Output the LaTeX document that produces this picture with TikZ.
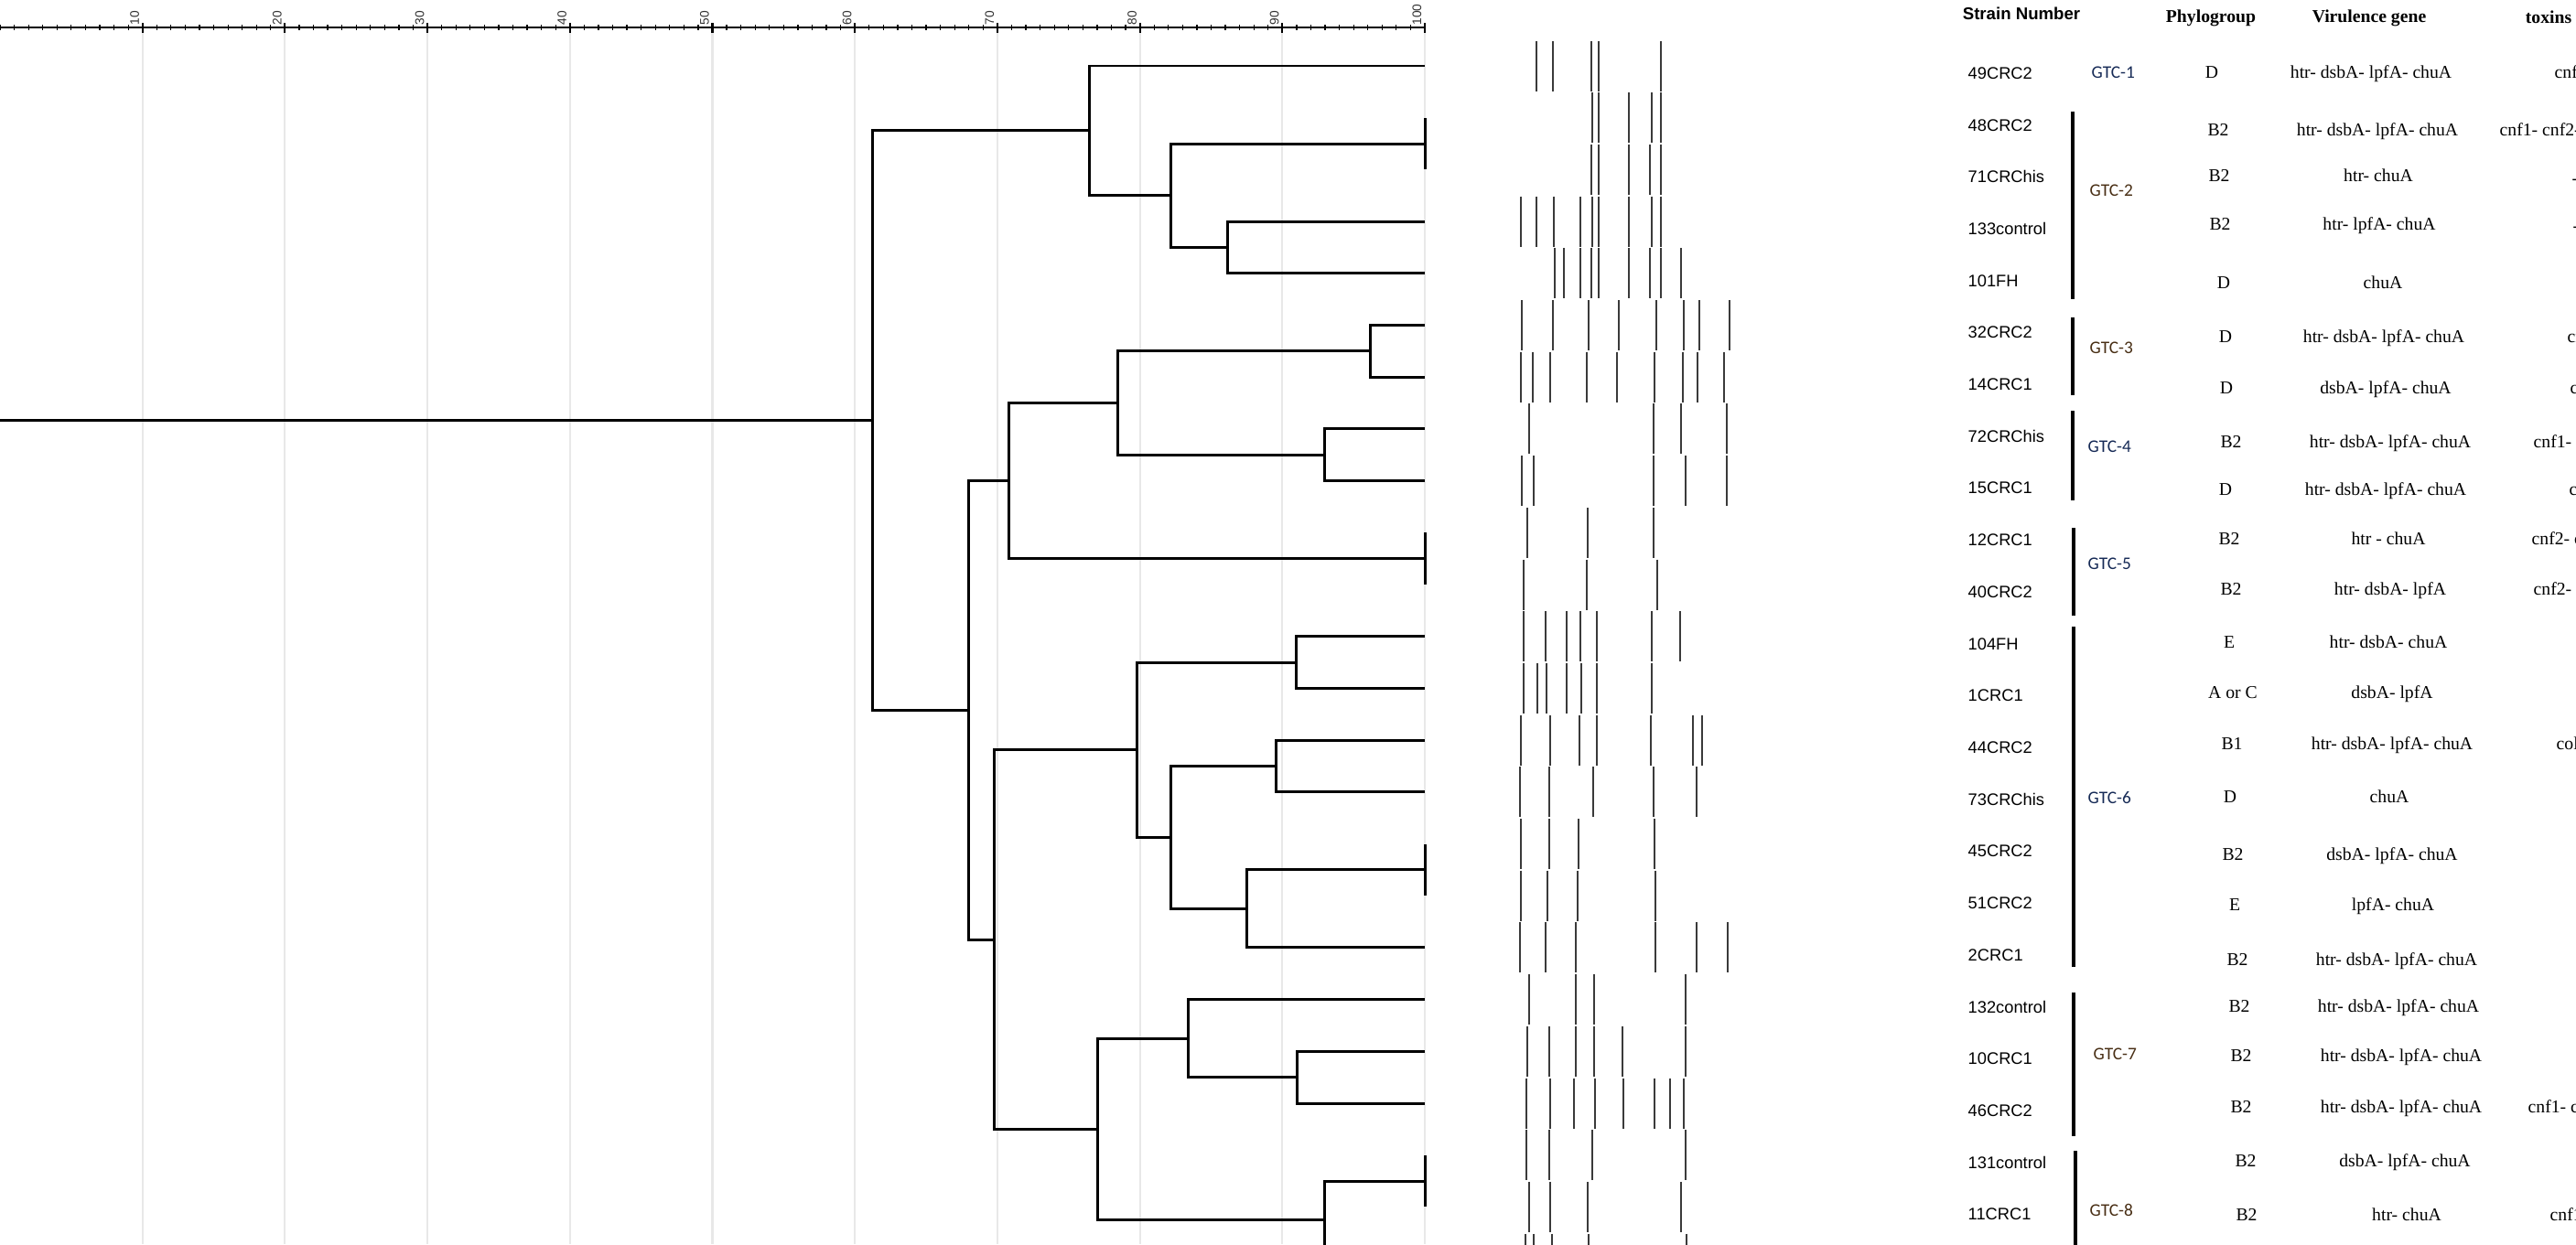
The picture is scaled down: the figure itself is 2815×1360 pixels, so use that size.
\documentclass[tikz,border=0pt]{standalone}
\usepackage{fontspec}
\setmainfont{Liberation Serif}
\setsansfont{Liberation Sans}
\newfontfamily\gtcfont{Carlito}
\usetikzlibrary{positioning}
\definecolor{gtcblue}{RGB}{22,42,86}
\definecolor{gtcbrown}{RGB}{72,46,20}
\definecolor{gridgray}{RGB}{232,232,232}
\definecolor{bandgray}{RGB}{58,58,58}

\begin{document}
\begin{tikzpicture}[x=0.01cm, y=-0.01cm,
branch/.style={line width=0.85pt, black},
gridline/.style={line width=0.6pt, gridgray},
band/.style={line width=0.7pt, bandgray},
gtcbar/.style={line width=1.2pt, black},
strain/.style={anchor=west, inner sep=0, font=\sffamily\fontsize{5.2}{6}\selectfont},
cell/.style={anchor=mid, inner sep=0, font=\fontsize{5.6}{6}\selectfont},
toxin/.style={anchor=mid west, inner sep=0, font=\fontsize{5.6}{6}\selectfont},
head/.style={inner sep=0, font=\bfseries\fontsize{5.6}{6}\selectfont},
gtc/.style={anchor=west, inner sep=0, font=\gtcfont\fontsize{5.5}{6}\selectfont},
ticklabel/.style={rotate=90, anchor=south west, inner sep=0, black!80,
  font=\sffamily\fontsize{3.9}{4}\selectfont}]
\useasboundingbox (0,0) rectangle (2815,1360);
\clip (0,0) rectangle (2815,1360);
\fill[white] (0,0) rectangle (2815,1360);

% scale and grid
\foreach \t in {10,20,...,100}
  \draw[gridline] ({15.57*\t},36) -- ({15.57*\t},1360);
\draw[line width=0.85pt] (0,30) -- (1557,30);
\foreach \t in {0,...,100}
  \draw[line width=0.35pt] ({15.57*\t},27) -- ({15.57*\t},33);
\foreach \t in {10,20,...,100} {
  \draw[line width=0.6pt] ({15.57*\t},25) -- ({15.57*\t},36);
  \node[ticklabel] (t\t) at ({15.57*\t-3},28) {\t};
}

% leaf tips at 100
\foreach \i in {1,...,24}
  \coordinate (l\i) at (1557,{72+56.7*(\i-1)});
% pairs joined at 100
\coordinate (P1) at (1557,157.05);
\coordinate (P2) at (1557,610.65);
\coordinate (P3) at (1557,950.85);
\coordinate (P4) at (1557,1291.05);
% inner nodes
\coordinate (C) at (1341,270.45);
\coordinate (B) at (1279,213.75);
\coordinate (A) at (1190,142.9);
\coordinate (G) at (1497,383.85);
\coordinate (H) at (1447,497.25);
\coordinate (F) at (1221,440.55);
\coordinate (E) at (1102,525.6);
\coordinate (K) at (1416,724.05);
\coordinate (M) at (1394,837.45);
\coordinate (N) at (1362,993.4);
\coordinate (L) at (1279,915.4);
\coordinate (J) at (1242,819.7);
\coordinate (R) at (1417,1177.65);
\coordinate (Q) at (1298,1135.1);
\coordinate (S) at (1447,1333.6);
\coordinate (O) at (1199,1234.35);
\coordinate (I) at (1086,1027);
\coordinate (D) at (1058,776.3);
\coordinate (root) at (953,459.6);
\coordinate (base) at (0,459.6);

\draw[branch] (base) -- (root);
\draw[branch] (root) |- (A);
\draw[branch] (root) |- (D);
\draw[branch] (A) |- (l1);
\draw[branch] (A) |- (B);
\draw[branch] (B) |- (P1);
\draw[branch] (B) |- (C);
\draw[branch] (P1) |- (l2);
\draw[branch] (P1) |- (l3);
\draw[branch] (C) |- (l4);
\draw[branch] (C) |- (l5);
\draw[branch] (D) |- (E);
\draw[branch] (D) |- (I);
\draw[branch] (E) |- (F);
\draw[branch] (E) |- (P2);
\draw[branch] (F) |- (G);
\draw[branch] (F) |- (H);
\draw[branch] (G) |- (l6);
\draw[branch] (G) |- (l7);
\draw[branch] (H) |- (l8);
\draw[branch] (H) |- (l9);
\draw[branch] (P2) |- (l10);
\draw[branch] (P2) |- (l11);
\draw[branch] (I) |- (J);
\draw[branch] (I) |- (O);
\draw[branch] (J) |- (K);
\draw[branch] (J) |- (L);
\draw[branch] (K) |- (l12);
\draw[branch] (K) |- (l13);
\draw[branch] (L) |- (M);
\draw[branch] (L) |- (N);
\draw[branch] (M) |- (l14);
\draw[branch] (M) |- (l15);
\draw[branch] (N) |- (P3);
\draw[branch] (N) |- (l18);
\draw[branch] (P3) |- (l16);
\draw[branch] (P3) |- (l17);
\draw[branch] (O) |- (Q);
\draw[branch] (O) |- (S);
\draw[branch] (Q) |- (l19);
\draw[branch] (Q) |- (R);
\draw[branch] (R) |- (l20);
\draw[branch] (R) |- (l21);
\draw[branch] (S) |- (P4);
\draw[branch] (S) |- (l24);
\draw[branch] (P4) |- (l22);
\draw[branch] (P4) |- (l23);

% band patterns
\foreach \r/\xs in {
 1/{1679,1697,1739,1747,1815},
 2/{1740,1747,1780,1805,1815},
 3/{1739,1747,1780,1803,1815},
 4/{1662,1679,1698,1727,1740,1747,1780,1805,1815},
 5/{1699,1709,1727,1739,1747,1780,1803,1815,1837},
 6/{1663,1697,1736,1769,1810,1840,1857,1890},
 7/{1662,1675,1694,1734,1767,1808,1839,1855,1884},
 8/{1671,1807,1837,1887},
 9/{1663,1676,1807,1842,1887},
 10/{1669,1735,1807},
 11/{1665,1734,1811},
 12/{1665,1689,1712,1727,1745,1805,1836},
 13/{1665,1680,1690,1712,1728,1745,1805},
 14/{1662,1694,1726,1745,1804,1850,1860},
 15/{1661,1693,1741,1807,1854},
 16/{1662,1693,1725,1808},
 17/{1662,1691,1724,1809},
 18/{1661,1689,1722,1809,1854,1888},
 19/{1671,1722,1742,1842},
 20/{1669,1693,1722,1742,1773,1842},
 21/{1668,1694,1720,1743,1774,1808,1825,1840},
 22/{1668,1693,1740,1842},
 23/{1671,1694,1735,1837},
 24/{1667,1676,1696,1736,1843}}
  \foreach \x in \xs
    \draw[band] (\x,{72+56.7*(\r-1)-27.5}) -- (\x,{72+56.7*(\r-1)+27.5});

% table
\node[strain, anchor=center, font=\sffamily\bfseries\fontsize{5.3}{6}\selectfont]
  (hstrain) at (2209,15) {Strain Number};
\node[head] (hphylo) at (2416,20) {Phylogroup};
\node[head] (hgene) at (2589,20) {Virulence gene};
\node[head] (htox) at (2785,19) {toxins};

\foreach \st/\pg/\px/\vg/\vx/\yy [count=\i] in {
 49CRC2/D/2417/htr- dsbA- lpfA- chuA/2591/77,
 48CRC2/B2/2424/htr- dsbA- lpfA- chuA/2598/140,
 71CRChis/B2/2425/htr- chuA/2599/190,
 133control/B2/2426/htr- lpfA- chuA/2600/243,
 101FH/D/2430/chuA/2604/307,
 32CRC2/D/2432/htr- dsbA- lpfA- chuA/2605/366,
 14CRC1/D/2433/dsbA- lpfA- chuA/2607/422,
 72CRChis/B2/2438/htr- dsbA- lpfA- chuA/2612/481,
 15CRC1/D/2432/htr- dsbA- lpfA- chuA/2607/533,
 12CRC1/B2/2436/htr - chuA/2610/587,
 40CRC2/B2/2438/htr- dsbA- lpfA/2612/642,
 104FH/E/2436/htr- dsbA- chuA/2610/700,
 1CRC1/A or C/2440/dsbA- lpfA/2614/755,
 44CRC2/B1/2439/htr- dsbA- lpfA- chuA/2614/811,
 73CRChis/D/2437/chuA/2611/869,
 45CRC2/B2/2440/dsbA- lpfA- chuA/2614/932,
 51CRC2/E/2442/lpfA- chuA/2615/987,
 2CRC1/B2/2445/htr- dsbA- lpfA- chuA/2619/1047,
 132control/B2/2447/htr- dsbA- lpfA- chuA/2621/1098,
 10CRC1/B2/2449/htr- dsbA- lpfA- chuA/2624/1152,
 46CRC2/B2/2449/htr- dsbA- lpfA- chuA/2624/1208,
 131control/B2/2454/dsbA- lpfA- chuA/2628/1267,
 11CRC1/B2/2455/htr- chuA/2630/1326} {
  \node[strain] (s\i) at (2150,{72+56.7*(\i-1)+8}) {\st};
  \node[cell] (p\i) at (\px,\yy) {\pg};
  \node[cell] (v\i) at (\vx,\yy) {\vg};
}

% toxins, cut by the right edge
\node[toxin] (x1) at (2791,77) {cnf};
\node[toxin] (x2) at (2731,140) {cnf1- cnf2-};
\node[toxin] (x3) at (2810,193) {-};
\node[toxin] (x4) at (2811,245) {-};
\node[toxin] (x6) at (2805,366) {cn};
\node[toxin] (x7) at (2808,422) {cn};
\node[toxin] (x8) at (2768,481) {cnf1- c};
\node[toxin] (x9) at (2807,533) {cn};
\node[toxin] (x10) at (2766,587) {cnf2- c};
\node[toxin] (x11) at (2768,642) {cnf2- c};
\node[toxin] (x14) at (2793,811) {col};
\node[toxin] (x21) at (2762,1208) {cnf1- c};
\node[toxin] (x23) at (2786,1326) {cnf1};

% GTC groups
\draw[gtcbar] (2265,122) -- (2265,327);
\draw[gtcbar] (2265,347) -- (2265,432);
\draw[gtcbar] (2265,449) -- (2265,547);
\draw[gtcbar] (2266,577) -- (2266,673);
\draw[gtcbar] (2266,685) -- (2266,1057);
\draw[gtcbar] (2266,1085) -- (2266,1242);
\draw[gtcbar] (2268,1258) -- (2268,1365);
\node[gtc, text=gtcblue] (g1) at (2285,79) {GTC-1};
\node[gtc, text=gtcbrown] (g2) at (2283,208) {GTC-2};
\node[gtc, text=gtcbrown] (g3) at (2283,380) {GTC-3};
\node[gtc, text=gtcblue] (g4) at (2281,488) {GTC-4};
\node[gtc, text=gtcblue] (g5) at (2281,616) {GTC-5};
\node[gtc, text=gtcblue] (g6) at (2281,872) {GTC-6};
\node[gtc, text=gtcbrown] (g7) at (2287,1152) {GTC-7};
\node[gtc, text=gtcbrown] (g8) at (2283,1323) {GTC-8};
\end{tikzpicture}
\end{document}
